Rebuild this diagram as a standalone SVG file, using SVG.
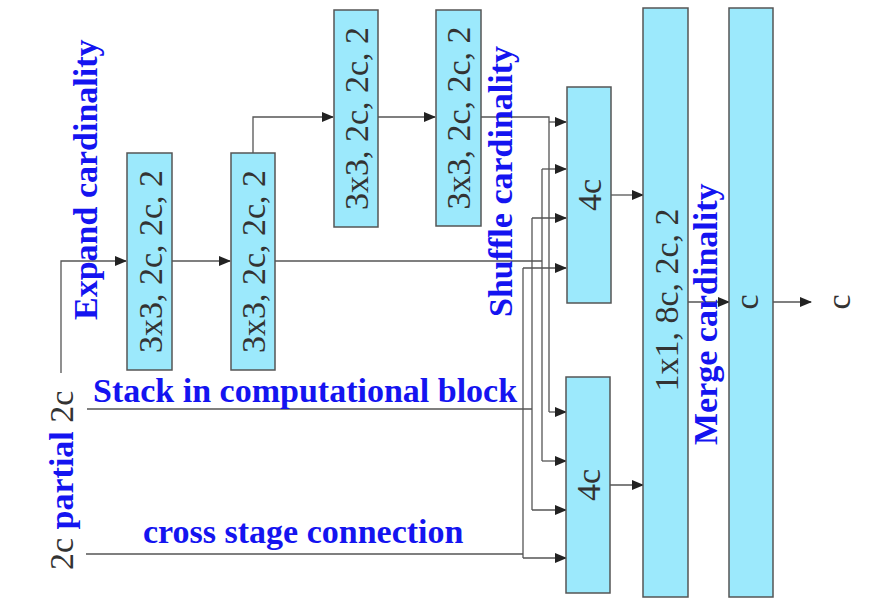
<svg xmlns="http://www.w3.org/2000/svg" width="877" height="609" viewBox="0 0 877 609">
<style>
.box{fill:#9ce9fc;stroke:#555;stroke-width:1.5}
.lbl{font-family:"Liberation Serif","Times New Roman",serif;font-size:34px;fill:#333}
.blue{font-family:"Liberation Serif","Times New Roman",serif;font-size:34px;font-weight:bold;fill:#1414f0}
.ln{fill:none;stroke:#555;stroke-width:1.3}
</style>
<defs>
<marker id="ah" markerWidth="12" markerHeight="10" refX="11" refY="5" orient="auto" markerUnits="userSpaceOnUse">
<path d="M0,0 L12,5 L0,10 Z" fill="#222"/>
</marker>
</defs>
<rect width="877" height="609" fill="#fff"/>

<g id="connectors">
<path class="ln" d="M61,373 V261 H126" marker-end="url(#ah)"/>
<path class="ln" d="M172,261 H230" marker-end="url(#ah)"/>
<path class="ln" d="M253,153 V117 H333" marker-end="url(#ah)"/>
<path class="ln" d="M378,117 H435" marker-end="url(#ah)"/>
<path class="ln" d="M481,117 H549 V412"/>
<path class="ln" d="M549,122 H566" marker-end="url(#ah)"/>
<path class="ln" d="M549,412 H566" marker-end="url(#ah)"/>
<path class="ln" d="M275,261 H542"/>
<path class="ln" d="M542,169 V461"/>
<path class="ln" d="M542,169 H566" marker-end="url(#ah)"/>
<path class="ln" d="M542,461 H566" marker-end="url(#ah)"/>
<path class="ln" d="M87,409 H532"/>
<path class="ln" d="M532,218 V510"/>
<path class="ln" d="M532,218 H566" marker-end="url(#ah)"/>
<path class="ln" d="M532,510 H566" marker-end="url(#ah)"/>
<path class="ln" d="M86,554 H523"/>
<path class="ln" d="M523,268 V558"/>
<path class="ln" d="M523,268 H566" marker-end="url(#ah)"/>
<path class="ln" d="M523,558 H566" marker-end="url(#ah)"/>
<path class="ln" d="M611,195 H643" marker-end="url(#ah)"/>
<path class="ln" d="M610,485 H643" marker-end="url(#ah)"/>
<path class="ln" d="M688,302 H729" marker-end="url(#ah)"/>
<path class="ln" d="M773,302 H811" marker-end="url(#ah)"/>
</g>

<g id="n1"><rect class="box" x="127" y="153" width="45" height="217"/>
<text class="lbl" text-anchor="middle" transform="translate(162,261.5) rotate(-90)">3x3, 2c, 2c, 2</text></g>
<g id="n2"><rect class="box" x="231" y="153" width="44" height="217"/>
<text class="lbl" text-anchor="middle" transform="translate(265,261.5) rotate(-90)">3x3, 2c, 2c, 2</text></g>
<g id="n3"><rect class="box" x="334" y="10" width="44" height="217"/>
<text class="lbl" text-anchor="middle" transform="translate(368,118.5) rotate(-90)">3x3, 2c, 2c, 2</text></g>
<g id="n4"><rect class="box" x="436" y="10" width="45" height="216"/>
<text class="lbl" text-anchor="middle" transform="translate(470,118) rotate(-90)">3x3, 2c, 2c, 2</text></g>
<g id="n5"><rect class="box" x="567" y="87" width="44" height="216"/>
<text class="lbl" text-anchor="middle" transform="translate(601,195) rotate(-90)">4c</text></g>
<g id="n6"><rect class="box" x="566" y="377" width="44" height="216"/>
<text class="lbl" text-anchor="middle" transform="translate(600,485) rotate(-90)">4c</text></g>
<g id="n7"><rect class="box" x="643" y="8" width="45" height="589"/>
<text class="lbl" text-anchor="middle" transform="translate(678,300) rotate(-90)">1x1, 8c, 2c, 2</text></g>
<g id="n8"><rect class="box" x="729" y="8" width="44" height="589"/>
<text class="lbl" text-anchor="middle" transform="translate(758,302) rotate(-90)">c</text></g>
<g id="out"><text class="lbl" text-anchor="middle" transform="translate(850,302) rotate(-90)">c</text></g>

<g id="labels">
<text class="blue" transform="translate(97,320) rotate(-90)">Expand cardinality</text>
<text class="blue" transform="translate(512,317) rotate(-90)">Shuffle cardinality</text>
<text class="blue" transform="translate(717,445) rotate(-90)">Merge cardinality</text>
<text class="blue" x="93" y="402">Stack in computational block</text>
<text class="blue" x="143" y="543">cross stage connection</text>
<text class="lbl" transform="translate(73,570) rotate(-90)">2c <tspan class="blue">partial</tspan> 2c</text>
</g>
</svg>
